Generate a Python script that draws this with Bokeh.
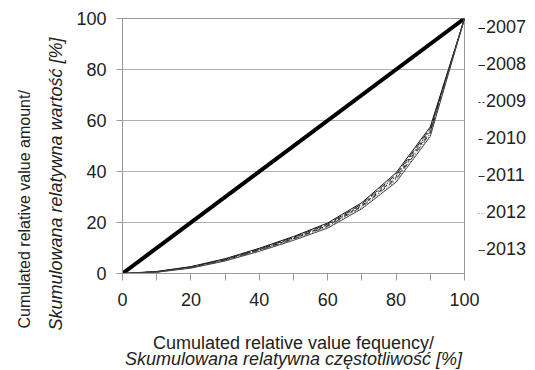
from bokeh.plotting import figure
from bokeh.models import (Range1d, FixedTicker, Legend, LegendItem, LinearAxis, Title)
from bokeh.embed import file_html
from bokeh.resources import INLINE

# ---- data ----
x_freq = [0, 10, 20, 30, 40, 50, 60, 70, 80, 90, 100]
years = ["2007", "2008", "2009", "2010", "2011", "2012", "2013"]
y2007 = [0, 0.8, 2.7, 5.8, 9.9, 14.5, 19.8, 27.8, 39.5, 57.5, 100]
y2008 = [0, 0.7, 2.6, 5.6, 9.6, 14.2, 19.4, 27.3, 38.8, 56.8, 100]
y2009 = [0, 0.7, 2.5, 5.5, 9.5, 14.0, 19.1, 27.0, 38.2, 56.2, 100]
y2010 = [0, 0.6, 2.4, 5.3, 9.3, 13.7, 18.8, 26.6, 37.6, 55.6, 100]
y2011 = [0, 0.6, 2.3, 5.2, 9.1, 13.5, 18.5, 26.2, 37.0, 55.0, 100]
y2012 = [0, 0.5, 2.2, 5.0, 8.9, 13.2, 18.1, 25.8, 36.3, 54.4, 100]
y2013 = [0, 0.5, 2.1, 4.9, 8.7, 13.0, 17.8, 25.4, 35.8, 53.8, 100]
equality_x = [0, 100]
equality_y = [0, 100]
x_ticks = [0, 20, 40, 60, 80, 100]
x_minor = [10, 30, 50, 70, 90]
y_ticks = [0, 20, 40, 60, 80, 100]
x_title_1 = "Cumulated relative value fequency/"
x_title_2 = "Skumulowana relatywna częstotliwość [%]"
y_title_1 = "Cumulated relative value amount/"
y_title_2 = "Skumulowana relatywna wartość [%]"

series = [y2007, y2008, y2009, y2010, y2011, y2012, y2013]
dashes = ["solid", "8 3", "2 2", "4 3", "6 2 1 2", "1 2", "solid"]
colors = ["#111111", "#222222", "#333333", "#222222", "#333333", "#777777", "#444444"]

FONT = "Liberation Sans"
TXT = "#222222"
GRAY_AX = "#9a9a9a"
GRAY_GRID = "#b0b0b0"

p = figure(frame_width=342, frame_height=255,
           min_border_left=122, min_border_right=71,
           min_border_top=18, min_border_bottom=97,
           x_range=Range1d(0, 100), y_range=Range1d(0, 100),
           output_backend="svg", toolbar_location=None,
           background_fill_color="white", border_fill_color="white")

p.outline_line_color = GRAY_AX
p.xgrid.visible = False
p.ygrid.ticker = FixedTicker(ticks=y_ticks)
p.ygrid.grid_line_color = GRAY_GRID

p.xaxis.ticker = FixedTicker(ticks=x_ticks, minor_ticks=x_minor)
p.yaxis.ticker = FixedTicker(ticks=y_ticks)
for ax in (p.xaxis[0], p.yaxis[0]):
    ax.axis_line_color = GRAY_AX
    ax.major_tick_line_color = GRAY_AX
    ax.minor_tick_line_color = GRAY_AX
    ax.major_tick_in = 0
    ax.minor_tick_in = 0
    ax.major_label_text_font = FONT
    ax.major_label_text_font_size = "18px"
    ax.major_label_text_color = TXT
p.xaxis.major_tick_out = 7
p.xaxis.minor_tick_out = 7
p.xaxis.major_label_standoff = 12
p.yaxis.major_tick_out = 6
p.yaxis.minor_tick_line_color = None
p.yaxis.major_label_standoff = 10

p.xaxis.axis_label = x_title_1
p.xaxis.axis_label_text_font = FONT
p.xaxis.axis_label_text_font_size = "18px"
p.xaxis.axis_label_text_color = TXT
p.xaxis.axis_label_text_font_style = "normal"
p.xaxis.axis_label_standoff = 24

p.add_layout(LinearAxis(ticker=FixedTicker(ticks=[]), axis_label=x_title_2,
                        axis_line_color=None, major_tick_line_color=None,
                        minor_tick_line_color=None, major_label_text_font_size="0px",
                        axis_label_text_font=FONT, axis_label_text_font_size="18px",
                        axis_label_text_color=TXT, axis_label_text_font_style="italic",
                        axis_label_standoff=-7), "below")

# y titles as side-panel titles, bottom-aligned like the original
p.add_layout(Title(text=y_title_2, align="left", offset=-57, standoff=15,
                   text_font=FONT, text_font_size="18px", text_font_style="italic",
                   text_color=TXT), "left")
p.add_layout(Title(text=y_title_1, align="left", offset=-55, standoff=8,
                   text_font=FONT, text_font_size="16px", text_font_style="normal",
                   text_color=TXT), "left")

# equality line
p.line(equality_x, equality_y, line_color="black", line_width=4)

items = []
for yr, ys, d, c in zip(years, series, dashes, colors):
    r = p.line(x_freq, ys, line_color=c, line_width=1, line_dash=d)
    items.append(LegendItem(label=yr, renderers=[r]))

legend = Legend(items=items, location=(14, 13), orientation="vertical",
                padding=0, margin=0, spacing=16,
                glyph_width=7, glyph_height=18, label_height=18,
                label_standoff=1, label_text_font=FONT,
                label_text_font_size="18px", label_text_color=TXT,
                border_line_color=None, background_fill_alpha=0,
                click_policy="none")
p.add_layout(legend, "right")

open("out.html", "w").write(file_html(p, INLINE))
